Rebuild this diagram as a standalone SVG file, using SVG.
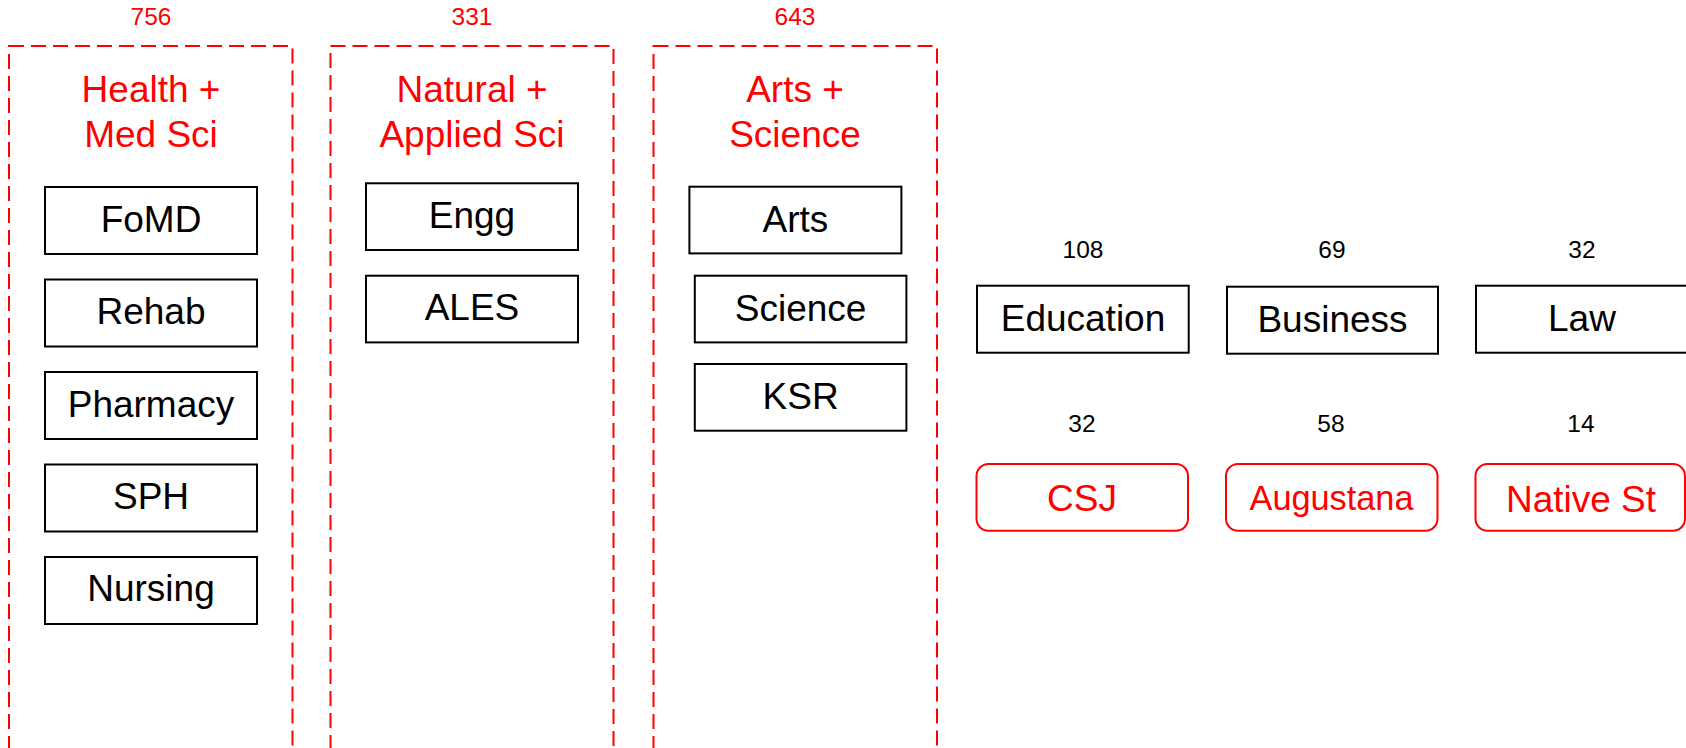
<svg xmlns="http://www.w3.org/2000/svg" width="1686" height="748" viewBox="0 0 1686 748">
<style>
text{font-family:"Liberation Sans",Arial,sans-serif;text-anchor:middle}
.grp{fill:none;stroke:#ff0000;stroke-width:2;stroke-dasharray:15 7}
.gt{fill:#ff0000;font-size:37px}
.cnt{fill:#ff0000;font-size:24.5px}
.num{fill:#000;font-size:24.5px}
.box{fill:#fff;stroke:#000;stroke-width:2}
.bt{fill:#000;font-size:37px}
.rbox{fill:#fff;stroke:#ff0000;stroke-width:2}
.rt{fill:#ff0000;font-size:37px}
</style>
<rect width="1686" height="748" fill="#fff"/>
<g id="group-health">
<rect class="grp" x="9" y="46" width="283.5" height="740"/>
<text class="cnt" x="151" y="25">756</text>
<text class="gt" x="151" y="101.5">Health +</text>
<text class="gt" x="151" y="146.5">Med Sci</text>
</g>
<g id="group-natural">
<rect class="grp" x="330.5" y="46" width="283" height="740"/>
<text class="cnt" x="472" y="25">331</text>
<text class="gt" x="472" y="101.5">Natural +</text>
<text class="gt" x="472" y="146.5">Applied Sci</text>
</g>
<g id="group-arts">
<rect class="grp" x="653.5" y="46" width="283.5" height="740"/>
<text class="cnt" x="795" y="25">643</text>
<text class="gt" x="795" y="101.5">Arts +</text>
<text class="gt" x="795" y="146.5">Science</text>
</g>
<g id="node-fomd"><rect class="box" x="45" y="187" width="212" height="67"/><text class="bt" x="151" y="231.5">FoMD</text></g>
<g id="node-rehab"><rect class="box" x="45" y="279.5" width="212" height="67"/><text class="bt" x="151" y="324">Rehab</text></g>
<g id="node-pharmacy"><rect class="box" x="45" y="372" width="212" height="67"/><text class="bt" x="151" y="416.5">Pharmacy</text></g>
<g id="node-sph"><rect class="box" x="45" y="464.5" width="212" height="67"/><text class="bt" x="151" y="508.5">SPH</text></g>
<g id="node-nursing"><rect class="box" x="45" y="557" width="212" height="67"/><text class="bt" x="151" y="601">Nursing</text></g>
<g id="node-engg"><rect class="box" x="366" y="183.3" width="212" height="66.7"/><text class="bt" x="472" y="227.5">Engg</text></g>
<g id="node-ales"><rect class="box" x="366" y="275.7" width="212" height="66.7"/><text class="bt" x="472" y="320">ALES</text></g>
<g id="node-arts"><rect class="box" x="689.4" y="186.7" width="212" height="66.7"/><text class="bt" x="795.4" y="231.5">Arts</text></g>
<g id="node-science"><rect class="box" x="694.8" y="275.7" width="211.6" height="66.7"/><text class="bt" x="800.6" y="320.5">Science</text></g>
<g id="node-ksr"><rect class="box" x="694.8" y="364" width="211.6" height="66.7"/><text class="bt" x="800.6" y="409">KSR</text></g>
<g id="node-education"><text class="num" x="1083" y="258">108</text><rect class="box" x="977" y="285.7" width="211.7" height="67"/><text class="bt" x="1083" y="331">Education</text></g>
<g id="node-business"><text class="num" x="1332" y="258">69</text><rect class="box" x="1227" y="286.7" width="211" height="67"/><text class="bt" x="1332.5" y="331.5">Business</text></g>
<g id="node-law"><text class="num" x="1582" y="258">32</text><rect class="box" x="1476" y="285.7" width="212" height="67"/><text class="bt" x="1582" y="331">Law</text></g>
<g id="node-csj"><text class="num" x="1082" y="432">32</text><rect class="rbox" x="976.5" y="464" width="211.5" height="66.7" rx="12"/><text class="rt" x="1082" y="510.5">CSJ</text></g>
<g id="node-augustana"><text class="num" x="1331" y="432">58</text><rect class="rbox" x="1226" y="464" width="211.5" height="66.7" rx="12"/><text class="rt" x="1331.5" y="510" style="font-size:34.3px">Augustana</text></g>
<g id="node-native"><text class="num" x="1581" y="432">14</text><rect class="rbox" x="1475.5" y="464" width="209.5" height="66.7" rx="12"/><text class="rt" x="1581" y="511.5">Native St</text></g>
<g id="connectors"></g>
</svg>
